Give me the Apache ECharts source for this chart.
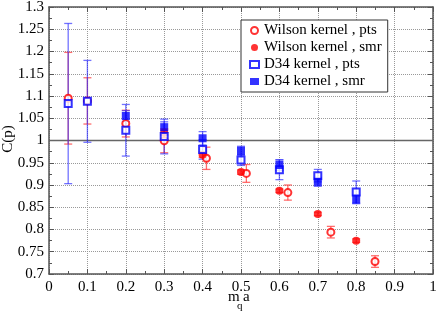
<!DOCTYPE html>
<html><head><meta charset="utf-8">
<script src="https://cdn.jsdelivr.net/npm/echarts@6/dist/echarts.min.js"></script>
<style>html,body{margin:0;padding:0;background:#fff}#c{width:436px;height:311px}</style>
</head><body><div id="c"></div>
<script>
const wilsonPtsX = [0.05,0.1,0.2,0.3,0.41,0.514,0.622,0.734,0.849];
const wilsonPtsY = [1.095,1.089,1.038,0.9995,0.960,0.926,0.883,0.794,0.728];
const wilsonPtsE = [0.103,0.052,0.030,0.027,0.025,0.020,0.017,0.013,0.013];
const wilsonSmrX = [0.3,0.4,0.5,0.6,0.7,0.8];
const wilsonSmrY = [1.018,0.968,0.929,0.887,0.835,0.775];
const wilsonSmrE = [0.006,0.006,0.005,0.004,0.004,0.004];
const d34PtsX = [0.05,0.1,0.2,0.3,0.4,0.5,0.6,0.7,0.8];
const d34PtsY = [1.083,1.088,1.023,1.009,0.980,0.956,0.934,0.921,0.884];
const d34PtsE = [0.180,0.092,0.058,0.039,0.022,0.012,0.022,0.014,0.025];
const d34SmrX = [0.2,0.3,0.4,0.5,0.6,0.7,0.8];
const d34SmrY = [1.055,1.030,1.005,0.977,0.945,0.907,0.868];
const d34SmrE = [0.012,0.012,0.015,0.010,0.012,0.010,0.010];

const FONT = '"Liberation Serif","DejaVu Serif",serif';
const chart = echarts.init(document.getElementById('c'));
const pts = (X,Y,E) => X.map((x,i)=>[x,Y[i],E[i]]);

function errSeries(data, color){
  return {
    type:'custom', silent:true, z:2,
    data:data,
    renderItem:function(params, api){
      const x=api.value(0), y=api.value(1), e=api.value(2);
      const top=api.coord([x,y+e]), bot=api.coord([x,y-e]);
      const w=4;
      const st={stroke:color, lineWidth:1.3};
      return {type:'group', children:[
        {type:'line', shape:{x1:top[0],y1:top[1],x2:bot[0],y2:bot[1]}, style:st},
        {type:'line', shape:{x1:top[0]-w,y1:top[1],x2:top[0]+w,y2:top[1]}, style:st},
        {type:'line', shape:{x1:bot[0]-w,y1:bot[1],x2:bot[0]+w,y2:bot[1]}, style:st}
      ]};
    }
  };
}
const red='#ff0000', blue='#0000ff';
const redE='rgba(255,60,60,0.75)', blueE='rgba(40,40,255,0.65)';

const axisCommon = {
  axisLine:{show:true, onZero:false, lineStyle:{color:'#555', width:1.5}},
  axisTick:{show:true, inside:true, length:5, lineStyle:{color:'#555'}},
  minorTick:{show:true, splitNumber:2, length:3, lineStyle:{color:'#555'}},
};
const txt = (s, x, y, size, extra) => ({type:'text', x:x, y:y, silent:true,
  style:Object.assign({text:s, fontFamily:FONT, fontSize:size, fill:'#000', align:'left', verticalAlign:'middle'}, extra||{})});

chart.setOption({
  animation:false,
  grid:{left:49, right:3, top:7, bottom:37, containLabel:false, outerBoundsMode:'none'},
  graphic:[
    {type:'text', x:8, y:139, rotation:Math.PI/2, silent:true,
      style:{text:'C(p)', fontFamily:FONT, fontSize:15, fill:'#000', align:'center', verticalAlign:'middle'}},
    txt('m', 228, 297, 15),
    txt('q', 237, 306, 11),
    txt('a', 243, 297, 15)
  ],
  legend:{
    left:241, top:20, width:158, orient:'vertical',
    backgroundColor:'#fff', borderColor:'#333', borderWidth:1,
    padding:[3,6,3,8], itemGap:2, itemWidth:9, itemHeight:7,
    textStyle:{fontFamily:FONT, fontSize:15, color:'#000'},
    data:['Wilson kernel , pts','Wilson kernel , smr','D34 kernel , pts','D34 kernel , smr']
  },
  xAxis:[
    Object.assign({type:'value', min:0, max:1, interval:0.1,
      axisLabel:{fontFamily:FONT, fontSize:15, color:'#000', margin:6},
      splitLine:{show:true, lineStyle:{color:'#999', type:'dotted'}}
    }, axisCommon),
    Object.assign({type:'value', min:0, max:1, interval:0.1, position:'top',
      axisLabel:{show:false}, splitLine:{show:false}}, axisCommon)
  ],
  yAxis:[
    Object.assign({type:'value', min:0.7, max:1.3, interval:0.05,
      axisLabel:{fontFamily:FONT, fontSize:15, color:'#000', margin:5},
      splitLine:{show:true, lineStyle:{color:'#999', type:'dotted'}}
    }, axisCommon),
    Object.assign({type:'value', min:0.7, max:1.3, interval:0.05, position:'right',
      axisLabel:{show:false}, splitLine:{show:false}}, axisCommon)
  ],
  series:[
    {type:'line', silent:true, symbol:'none', data:[[0,1],[1,1]], lineStyle:{color:'#666', width:1.3}, z:1},
    errSeries(pts(wilsonPtsX,wilsonPtsY,wilsonPtsE), redE),
    errSeries(pts(wilsonSmrX,wilsonSmrY,wilsonSmrE), redE),
    errSeries(pts(d34PtsX,d34PtsY,d34PtsE), blueE),
    errSeries(pts(d34SmrX,d34SmrY,d34SmrE), blueE),
    {name:'Wilson kernel , pts', type:'scatter', symbol:'emptyCircle', symbolSize:7, z:5,
      itemStyle:{color:red, borderWidth:1}, data:wilsonPtsX.map((x,i)=>[x,wilsonPtsY[i]])},
    {name:'Wilson kernel , smr', type:'scatter', symbol:'circle', symbolSize:8, z:5,
      itemStyle:{color:red}, data:wilsonSmrX.map((x,i)=>[x,wilsonSmrY[i]])},
    {name:'D34 kernel , pts', type:'scatter', symbol:'emptyRect', symbolSize:7, z:5,
      itemStyle:{color:blue, borderWidth:1}, data:d34PtsX.map((x,i)=>[x,d34PtsY[i]])},
    {name:'D34 kernel , smr', type:'scatter', symbol:'rect', symbolSize:8, z:5,
      itemStyle:{color:blue}, data:d34SmrX.map((x,i)=>[x,d34SmrY[i]])}
  ]
});
</script></body></html>
